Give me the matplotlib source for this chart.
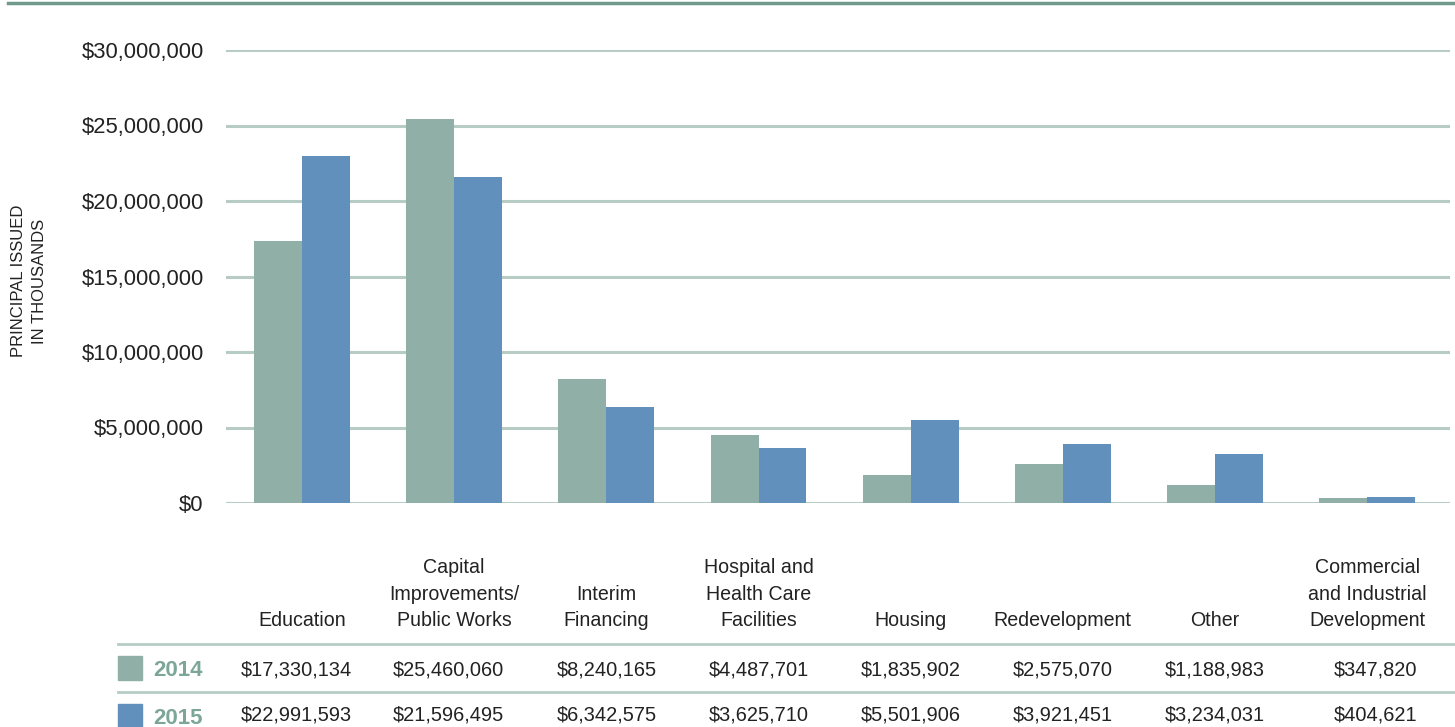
import numpy as np
import matplotlib.pyplot as plt
from matplotlib.transforms import blended_transform_factory
from matplotlib.ticker import FuncFormatter
from matplotlib.lines import Line2D
from matplotlib.patches import Rectangle

plt.rcParams['font.family'] = ['Liberation Sans', 'DejaVu Sans']

#====== data ======#
categories = ["Education", "Capital\nImprovements/\nPublic Works", "Interim\nFinancing",
              "Hospital and\nHealth Care\nFacilities", "Housing", "Redevelopment", "Other",
              "Commercial\nand Industrial\nDevelopment"]
years = ["2014", "2015"]
v2014 = [17330134, 25460060, 8240165, 4487701, 1835902, 2575070, 1188983, 347820]
v2015 = [22991593, 21596495, 6342575, 3625710, 5501906, 3921451, 3234031, 404621]
yticks = [0, 5000000, 10000000, 15000000, 20000000, 25000000, 30000000]

#====== style ======#
c2014 = '#8fafa7'
c2015 = '#6090bb'
cgrid = '#b8ccc6'
cyear = '#7ca697'
W, H = 1455, 727

def fy(py):
    return 1 - py / H

def fx(px):
    return px / W

fig = plt.figure(figsize=(W / 100, H / 100), dpi=100)
ax = fig.add_axes([fx(226), fy(503), fx(1450) - fx(226), fy(50) - fy(503)])

x = np.arange(len(categories))
bw = 0.315
ax.bar(x - bw / 2, v2014, bw, color=c2014, zorder=3)
ax.bar(x + bw / 2, v2015, bw, color=c2015, zorder=3)

ax.set_xlim(-0.5, 7.545)
ax.set_ylim(0, 30000000)
ax.set_yticks(yticks)
ax.yaxis.set_major_formatter(FuncFormatter(lambda v, p: "${:,.0f}".format(v)))
ax.tick_params(axis='y', length=0, pad=16, labelsize=15.8, labelcolor='#222222')
ax.set_xticks([])
ax.grid(axis='y', color=cgrid, lw=2.2, zorder=0)
ax.set_axisbelow(True)
for s in ax.spines.values():
    s.set_visible(False)

fig.text(fx(29), fy(281), "PRINCIPAL ISSUED\nIN THOUSANDS", rotation=90, ha='center', va='center',
         fontsize=12, color='#222222', linespacing=1.5)

# top rule
fig.add_artist(Line2D([fx(8), 1], [fy(2.5), fy(2.5)], color='#6f9a8c', lw=2.5))

# table
tr = blended_transform_factory(ax.transData, fig.transFigure)
off = 0.33  # right edge of value column, in category units
for i, cat in enumerate(categories):
    fig.text(x[i], fy(630), cat, transform=tr, ha='center', va='bottom', fontsize=14.1,
             color='#222222', linespacing=1.5)
    fig.text(x[i] + off, fy(670), "${:,}".format(v2014[i]), transform=tr, ha='right', va='center',
             fontsize=14.4, color='#222222')
    fig.text(x[i] + off, fy(715), "${:,}".format(v2015[i]), transform=tr, ha='right', va='center',
             fontsize=14.4, color='#222222')

for py in [644, 692]:
    fig.add_artist(Line2D([fx(118), 1], [fy(py), fy(py)], color=cgrid, lw=2))

for py, yr, col in [(668, years[0], c2014), (716, years[1], c2015)]:
    fig.add_artist(Rectangle((fx(118), fy(py + 12)), fx(24), 24 / H, color=col,
                             transform=fig.transFigure))
    fig.text(fx(153), fy(py + 2), yr, ha='left', va='center', fontsize=16, fontweight='bold',
             color=cyear)

plt.savefig("out.png", dpi=100)
